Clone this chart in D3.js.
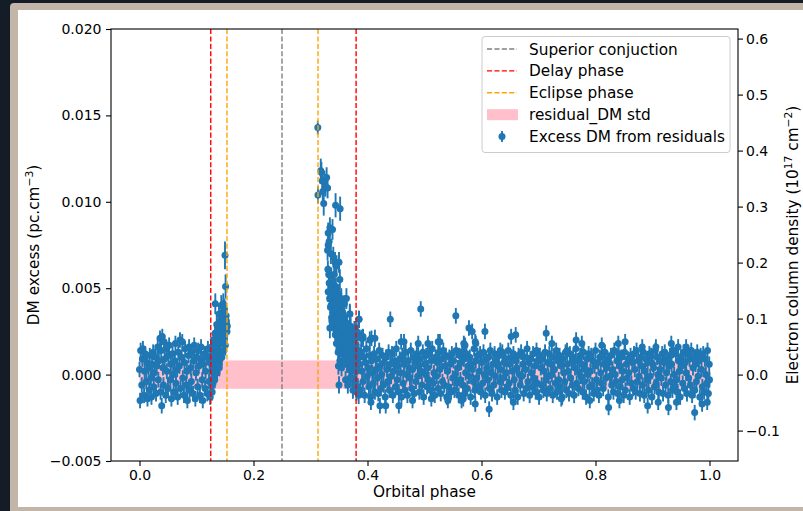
<!DOCTYPE html>
<html>
<head>
<meta charset="utf-8">
<script src="https://cdn.jsdelivr.net/npm/d3@7"></script>
<style>
  body { margin: 0; background: #131c27; overflow: hidden; }
  text { font-family: "DejaVu Sans", sans-serif; fill: #000; }
</style>
</head>
<body>
<div id="chart"></div>
<script>
// ---- data (phase, DM excess in pc cm^-3 [, error]) ----
var baseErr = 0.00045;

var preIngress = [
  [0.000,0.0003],[0.001,-0.0015],[0.002,0.0014],[0.004,-0.0006],[0.005,0.0009],[0.006,0.0015],[0.008,-0.0012],[0.009,0.0002],
  [0.010,0.0012],[0.012,-0.0004],[0.013,0.0007],[0.014,-0.0014],[0.016,0.0004],[0.017,-0.0009],[0.018,0.0011],[0.020,-0.0002],
  [0.021,-0.0013],[0.022,0.0006],[0.024,0.0013],[0.025,-0.0007],[0.026,0.0001],[0.028,0.0010],[0.029,-0.0011],[0.030,0.0005],
  [0.032,0.0016],[0.033,-0.0003],[0.034,0.0008],[0.036,0.0021],[0.037,-0.0010],[0.038,0.0014],[0.039,-0.0018],[0.040,0.0022],
  [0.041,0.0004],[0.042,-0.0006],[0.043,0.0019],[0.044,0.0009],[0.046,-0.0012],[0.047,0.0015],[0.048,0.0002],[0.050,-0.0008],
  [0.051,0.0011],[0.052,0.0017],[0.054,-0.0003],[0.055,0.0006],[0.056,-0.0014],[0.058,0.0012],[0.059,0.0000],[0.060,-0.0010],
  [0.062,0.0008],[0.063,0.0018],[0.064,-0.0005],[0.066,0.0003],[0.067,-0.0013],[0.068,0.0013],[0.070,0.0005],[0.071,0.0020],
  [0.072,-0.0008],[0.074,0.0010],[0.075,0.0019],[0.076,-0.0002],[0.078,-0.0012],[0.079,0.0007],[0.080,0.0015],[0.082,-0.0006],
  [0.083,0.0002],[0.084,-0.0015],[0.086,0.0011],[0.087,0.0016],[0.088,-0.0009],[0.090,0.0004],[0.091,-0.0004],[0.092,0.0013],
  [0.094,-0.0011],[0.095,0.0008],[0.096,0.0017],[0.098,-0.0014],[0.099,0.0001],[0.100,0.0010],[0.102,-0.0007],[0.103,0.0014],
  [0.104,0.0005],[0.106,-0.0012],[0.107,0.0009],[0.108,0.0016],[0.110,-0.0003],[0.111,-0.0015],[0.112,0.0006],[0.114,0.0012],
  [0.115,-0.0008],[0.116,0.0002],[0.118,0.0010],[0.119,-0.0011],[0.120,0.0015],[0.122,-0.0004],[0.123,0.0007],[0.124,-0.0013],
  [0.126,0.0011]
];

var ingress = [
  [0.127,0.0002,0.0005],[0.128,0.0014,0.0005],[0.129,-0.0005,0.0005],[0.130,0.0009,0.0005],[0.131,0.0018,0.0005],
  [0.132,-0.0003,0.0005],[0.132,0.0006,0.0005],[0.133,0.0041,0.0006],[0.134,0.0012,0.0005],[0.135,0.0021,0.0005],
  [0.136,0.0001,0.0005],[0.136,0.0008,0.0005],[0.137,0.0025,0.0005],[0.138,0.0015,0.0005],[0.139,0.0028,0.0005],
  [0.140,0.0004,0.0005],[0.140,0.0011,0.0005],[0.141,0.0031,0.0005],[0.142,0.0019,0.0005],[0.143,0.0024,0.0005],
  [0.144,0.0033,0.0005],[0.145,0.0027,0.0005],[0.146,0.0036,0.0006],[0.147,0.0041,0.0006],[0.148,0.0030,0.0006],
  [0.149,0.0038,0.0006],[0.150,0.0069,0.0008],[0.151,0.0051,0.0007],[0.152,0.0034,0.0006],[0.153,0.0029,0.0006],
  [0.154,0.0028,0.0006],
  [0.1265,0.0016,0.0005],[0.1275,-0.0010,0.0005],[0.1285,0.0005,0.0005],[0.1295,0.0020,0.0005],[0.1305,-0.0001,0.0005],
  [0.1315,0.0011,0.0005],[0.1325,0.0024,0.0005],[0.1335,0.0003,0.0005],[0.1345,0.0017,0.0005],[0.1355,0.0029,0.0005],
  [0.1365,0.0014,0.0005],[0.1375,0.0006,0.0005],[0.1385,0.0022,0.0005],[0.1395,0.0035,0.0005],[0.1405,0.0018,0.0005],
  [0.1415,0.0009,0.0005],[0.1425,0.0027,0.0005],[0.1435,0.0040,0.0006],[0.1445,0.0021,0.0005],[0.1445,0.0010,0.0005],
  [0.1455,0.0031,0.0006],[0.1465,0.0026,0.0006],[0.1475,0.0034,0.0006],[0.1475,0.0014,0.0005],[0.1485,0.0024,0.0006],
  [0.1495,0.0032,0.0006],[0.1505,0.0027,0.0006],[0.1505,0.0017,0.0006],[0.1525,0.0031,0.0006],[0.1535,0.0025,0.0006]
];

var egressPeak = [
  [0.3128,0.0143,0.0004],[0.3131,0.0104,0.0005],[0.3180,0.0118,0.0007],[0.3192,0.0117,0.0006],[0.3205,0.0112,0.0006],
  [0.3215,0.0106,0.0006],[0.3232,0.0099,0.0007],[0.3245,0.0112,0.0006],[0.3262,0.0109,0.0006],[0.3283,0.0114,0.0006],
  [0.3300,0.0108,0.0006],[0.3440,0.0098,0.0007],[0.3520,0.0096,0.0007],[0.3340,0.0085,0.0006],[0.3386,0.0084,0.0006],
  [0.3310,0.0082,0.0006],[0.3327,0.0077,0.0006],[0.3310,0.0075,0.0006],[0.3299,0.0072,0.0006],[0.3357,0.0070,0.0006],
  [0.3400,0.0068,0.0006],[0.3430,0.0065,0.0006],[0.3500,0.0065,0.0006],[0.3457,0.0063,0.0006],[0.3515,0.0055,0.0006],
  [0.3327,0.0053,0.0006],[0.3310,0.0048,0.0006],[0.3369,0.0050,0.0006],[0.3430,0.0046,0.0006],[0.3457,0.0042,0.0006],
  [0.3540,0.0044,0.0006],[0.3630,0.0044,0.0006],[0.3340,0.0027,0.0006],[0.3690,0.0035,0.0006],[0.3850,0.0032,0.0005],
  [0.3780,0.0026,0.0005],[0.3890,0.0021,0.0005],[0.3500,-0.0006,0.0005],
  [0.336,0.0040,0.0006],[0.337,0.0033,0.0006],[0.338,0.0045,0.0006],[0.339,0.0036,0.0006]
];

var egressTail = [
  [0.340,0.0038],[0.341,0.0029],[0.342,0.0041],[0.343,0.0033],[0.344,0.0026],[0.345,0.0036],[0.346,0.0031],[0.347,0.0022],
  [0.348,0.0040],[0.349,0.0028],[0.350,0.0019],[0.351,0.0034],[0.352,0.0025],[0.353,0.0016],[0.354,0.0030],[0.355,0.0021],
  [0.356,0.0012],[0.357,0.0027],[0.358,0.0018],[0.359,0.0033],[0.360,0.0009],[0.361,0.0024],[0.362,0.0015],[0.363,0.0029],
  [0.364,0.0006],[0.365,0.0020],[0.366,0.0011],[0.367,0.0025],[0.368,0.0003],[0.369,0.0035],[0.370,0.0016],[0.371,0.0008],
  [0.372,0.0022],[0.373,-0.0002],[0.374,0.0013],[0.375,0.0019],[0.376,0.0005],[0.377,0.0026],[0.378,-0.0004],[0.379,0.0011],
  [0.380,0.0017],[0.381,0.0002],[0.382,0.0009],[0.383,-0.0007],[0.384,0.0014],[0.385,0.0032],
  [0.3305,0.0061],[0.3320,0.0058],[0.3335,0.0044],[0.3350,0.0039],[0.3365,0.0057],[0.3375,0.0031],[0.3390,0.0052],[0.3405,0.0047],
  [0.3415,0.0058],[0.3425,0.0035],[0.3435,0.0023],[0.3445,0.0051],[0.3455,0.0018],[0.3465,0.0044],[0.3475,0.0029],[0.3485,0.0013],
  [0.3495,0.0047],[0.3505,0.0024],[0.3515,0.0008],[0.3525,0.0039],[0.3535,0.0031],[0.3545,0.0004],[0.3555,0.0028],[0.3565,0.0036],
  [0.3575,0.0007],[0.3585,0.0023],[0.3595,0.0041],[0.3605,0.0014],[0.3615,-0.0003],[0.3625,0.0030],[0.3635,0.0019],[0.3645,0.0026],
  [0.3655,-0.0006],[0.3665,0.0017],[0.3675,0.0009],[0.3685,0.0024],[0.3695,-0.0002],[0.3705,0.0028],[0.3715,0.0012],[0.3725,0.0004],
  [0.3735,0.0019],[0.3745,-0.0009],[0.3755,0.0008],[0.3765,0.0015],[0.3775,-0.0006],[0.3785,0.0021],[0.3795,0.0004],[0.3805,-0.0010],
  [0.3815,0.0013],[0.3825,0.0024],[0.3835,0.0006],[0.3845,-0.0012],[0.3855,0.0010],
  [0.3375,0.0046],[0.3395,0.0041],[0.3410,0.0037],[0.3420,0.0049],[0.3440,0.0040],[0.3450,0.0033],[0.3470,0.0038],[0.3480,0.0046],
  [0.3490,0.0035],[0.3510,0.0041],[0.3530,0.0036],[0.3550,0.0033],[0.3560,0.0027],[0.3580,0.0031],[0.3600,0.0026],[0.3620,0.0022],
  [0.3640,0.0029],[0.3660,0.0024],[0.3690,0.0020],[0.3720,0.0017],[0.3740,0.0023],[0.3760,0.0018],[0.3810,0.0025],[0.3920,0.0021],
  [0.4040,0.0020],[0.4130,0.0021],[0.3490,0.0005]
];

var postEgress = [
  [0.386,0.0006],[0.3875,-0.0009],[0.389,0.0013],[0.3905,0.0002],[0.392,-0.0004],[0.3935,0.0010],[0.395,-0.0012],[0.3965,0.0007],[0.398,0.0015],[0.3995,-0.0001],
  [0.401,0.0004],[0.4025,-0.0007],[0.404,0.0011],[0.4055,-0.0013],[0.407,0.0008],[0.4085,0.0001],[0.410,-0.0005],[0.4115,0.0012],[0.413,-0.0010],[0.4145,0.0003],
  [0.416,0.0009],[0.4175,-0.0002],[0.419,-0.0011],[0.4205,0.0014],[0.422,0.0005],[0.4235,-0.0008],[0.425,0.0000],[0.4265,0.0011],[0.428,-0.0006],[0.4295,0.0007],
  [0.431,-0.0013],[0.4325,0.0010],[0.434,0.0003],[0.4355,-0.0004],[0.437,0.0013],[0.4385,-0.0009],[0.440,0.0006],[0.4415,-0.0001],[0.443,0.0012],[0.4445,-0.0012],
  [0.446,0.0002],[0.4475,0.0008],[0.449,-0.0007],[0.4505,0.0015],[0.452,-0.0003],[0.4535,0.0005],[0.455,-0.0010],[0.4565,0.0009],[0.458,0.0001],[0.4595,-0.0013],
  [0.461,0.0011],[0.4625,-0.0005],[0.464,0.0006],[0.4655,-0.0009],[0.467,0.0013],[0.4685,0.0000],[0.470,-0.0012],[0.4715,0.0008],[0.473,0.0004],[0.4745,-0.0002],
  [0.476,0.0014],[0.4775,-0.0008],[0.479,0.0003],[0.4805,0.0010],[0.482,-0.0011],[0.4835,0.0007],[0.485,-0.0004],[0.4865,0.0012],[0.488,-0.0001],[0.4895,0.0005],
  [0.491,-0.0010],[0.4925,0.0009],[0.494,0.0002],[0.4955,-0.0006],[0.497,0.0013],[0.4985,-0.0013],[0.500,0.0006],[0.5015,0.0000],[0.503,0.0011],[0.5045,-0.0007],
  [0.506,0.0004],[0.5075,-0.0003],[0.509,0.0012],[0.5105,-0.0009],[0.512,0.0008],[0.5135,0.0015],[0.515,-0.0005],[0.5165,0.0001],[0.518,-0.0012],[0.5195,0.0010],
  [0.521,-0.0001],[0.5225,0.0007],[0.524,-0.0008],[0.5255,0.0013],[0.527,0.0003],[0.5285,-0.0011],[0.530,0.0009],[0.5315,-0.0004],[0.533,0.0014],[0.5345,-0.0006],
  [0.536,0.0005],[0.5375,0.0011],[0.539,-0.0013],[0.5405,0.0002],[0.542,-0.0007],[0.5435,0.0010],[0.545,0.0006],[0.5465,-0.0010],[0.548,0.0012],[0.5495,-0.0002],
  [0.551,0.0008],[0.5525,-0.0009],[0.554,0.0000],[0.5555,0.0014],[0.557,-0.0005],[0.5585,0.0004],[0.560,-0.0012],[0.5615,0.0011],[0.563,-0.0003],[0.5645,0.0007],
  [0.566,0.0013],[0.5675,-0.0006],[0.569,0.0009],[0.5705,-0.0011],[0.572,0.0001],[0.5735,0.0012],[0.575,-0.0008],[0.5765,0.0005],[0.578,-0.0001],[0.5795,0.0010],
  [0.581,-0.0013],[0.5825,0.0006],[0.584,0.0003],[0.5855,-0.0004],[0.587,0.0015],[0.5885,-0.0009],[0.590,0.0008],[0.5915,-0.0002],[0.593,0.0011],[0.5945,-0.0007],
  [0.596,0.0002],[0.5975,0.0012],[0.599,-0.0010],[0.6005,0.0007],[0.602,-0.0005],[0.6035,0.0013],[0.605,0.0000],[0.6065,-0.0012],[0.608,0.0009],[0.6095,0.0004],
  [0.611,-0.0003],[0.6125,0.0010],[0.614,-0.0008],[0.6155,0.0014],[0.617,0.0001],[0.6185,-0.0011],[0.620,0.0006],[0.6215,-0.0006],[0.623,0.0012],[0.6245,-0.0001],
  [0.626,0.0008],[0.6275,-0.0013],[0.629,0.0005],[0.6305,0.0011],[0.632,-0.0004],[0.6335,0.0003],[0.635,-0.0009],[0.6365,0.0013],[0.638,-0.0002],[0.6395,0.0007],
  [0.641,-0.0010],[0.6425,0.0009],[0.644,0.0001],[0.6455,-0.0007],[0.647,0.0014],[0.6485,-0.0005],[0.650,0.0006],[0.6515,-0.0012],[0.653,0.0010],[0.6545,0.0002],
  [0.656,0.0012],[0.6575,-0.0003],[0.659,-0.0009],[0.6605,0.0008],[0.662,0.0004],[0.6635,-0.0013],[0.665,0.0011],[0.6665,0.0000],[0.668,-0.0006],[0.6695,0.0013],
  [0.671,-0.0001],[0.6725,0.0006],[0.674,-0.0011],[0.6755,0.0010],[0.677,0.0003],[0.6785,-0.0008],[0.680,0.0015],[0.6815,-0.0004],[0.683,0.0007],[0.6845,-0.0012],
  [0.686,0.0009],[0.6875,0.0001],[0.689,-0.0007],[0.6905,0.0012],[0.692,-0.0002],[0.6935,0.0005],[0.695,-0.0010],[0.6965,0.0014],[0.698,-0.0005],[0.6995,0.0008],
  [0.701,-0.0013],[0.7025,0.0011],[0.704,0.0004],[0.7055,-0.0006],[0.707,0.0009],[0.7085,-0.0009],[0.710,0.0002],[0.7115,0.0013],[0.713,-0.0003],[0.7145,-0.0011],
  [0.716,0.0007],[0.7175,-0.0001],[0.719,0.0012],[0.7205,-0.0008],[0.722,0.0006],[0.7235,0.0000],[0.725,-0.0012],[0.7265,0.0010],[0.728,0.0003],[0.7295,-0.0005],
  [0.731,0.0014],[0.7325,-0.0010],[0.734,0.0008],[0.7355,-0.0003],[0.737,0.0011],[0.7385,-0.0007],[0.740,0.0005],[0.7415,-0.0013],[0.743,0.0009],[0.7445,0.0001],
  [0.746,-0.0004],[0.7475,0.0013],[0.749,-0.0009],[0.7505,0.0006],[0.752,0.0002],[0.7535,-0.0011],[0.755,0.0012],[0.7565,-0.0002],[0.758,0.0007],[0.7595,-0.0006],
  [0.761,0.0010],[0.7625,-0.0012],[0.764,0.0004],[0.7655,0.0015],[0.767,-0.0005],[0.7685,0.0008],[0.770,-0.0008],[0.7715,0.0001],[0.773,0.0011],[0.7745,-0.0001],
  [0.776,0.0006],[0.7775,-0.0010],[0.779,0.0013],[0.7805,-0.0004],[0.782,0.0003],[0.7835,-0.0013],[0.785,0.0009],[0.7865,0.0000],[0.788,0.0012],[0.7895,-0.0007],
  [0.791,0.0002],[0.7925,0.0011],[0.794,-0.0006],[0.7955,0.0008],[0.797,-0.0011],[0.7985,0.0005],[0.800,0.0014],[0.8015,-0.0003],[0.803,-0.0009],[0.8045,0.0007],
  [0.806,-0.0012],[0.8075,0.0010],[0.809,0.0001],[0.8105,-0.0005],[0.812,0.0012],[0.8135,-0.0008],[0.815,0.0006],[0.8165,0.0013],[0.818,-0.0002],[0.8195,0.0004],
  [0.821,0.0009],[0.8225,-0.0013],[0.824,0.0007],[0.8255,-0.0001],[0.827,0.0011],[0.8285,-0.0006],[0.830,0.0003],[0.8315,-0.0010],[0.833,0.0014],[0.8345,0.0000],
  [0.836,-0.0004],[0.8375,0.0008],[0.839,-0.0011],[0.8405,0.0012],[0.842,0.0005],[0.8435,-0.0007],[0.845,0.0010],[0.8465,-0.0003],[0.848,0.0002],[0.8495,-0.0012],
  [0.851,0.0013],[0.8525,-0.0009],[0.854,0.0006],[0.8555,-0.0002],[0.857,0.0009],[0.8585,0.0001],[0.860,-0.0013],[0.8615,0.0011],[0.863,-0.0005],[0.8645,0.0007],
  [0.866,-0.0008],[0.8675,0.0012],[0.869,0.0003],[0.8705,-0.0010],[0.872,0.0014],[0.8735,-0.0004],[0.875,0.0008],[0.8765,-0.0001],[0.878,-0.0011],[0.8795,0.0010],
  [0.881,0.0005],[0.8825,-0.0006],[0.884,0.0013],[0.8855,-0.0012],[0.887,0.0002],[0.8885,0.0009],[0.890,-0.0003],[0.8915,0.0007],[0.893,-0.0009],[0.8945,0.0012],
  [0.896,-0.0001],[0.8975,0.0011],[0.899,-0.0013],[0.9005,0.0006],[0.902,0.0004],[0.9035,-0.0007],[0.905,0.0014],[0.9065,-0.0005],[0.908,0.0010],[0.9095,0.0000],
  [0.911,-0.0010],[0.9125,0.0008],[0.914,0.0003],[0.9155,-0.0002],[0.917,0.0012],[0.9185,-0.0011],[0.920,0.0007],[0.9215,0.0013],[0.923,-0.0006],[0.9245,0.0001],
  [0.926,0.0009],[0.9275,-0.0012],[0.929,0.0005],[0.9305,0.0011],[0.932,-0.0004],[0.9335,0.0006],[0.935,-0.0009],[0.9365,0.0014],[0.938,0.0000],[0.9395,-0.0007],
  [0.941,0.0012],[0.9425,-0.0003],[0.944,-0.0010],[0.9455,0.0008],[0.947,0.0002],[0.9485,-0.0013],[0.950,0.0010],[0.9515,0.0005],[0.953,-0.0005],[0.9545,0.0013],
  [0.956,-0.0008],[0.9575,0.0007],[0.959,0.0001],[0.9605,-0.0011],[0.962,0.0012],[0.9635,-0.0002],[0.965,0.0009],[0.9665,-0.0006],[0.968,0.0014],[0.9695,-0.0012],
  [0.971,0.0004],[0.9725,0.0010],[0.974,-0.0009],[0.9755,0.0006],[0.977,-0.0004],[0.9785,0.0013],[0.980,-0.0001],[0.9815,0.0008],[0.983,-0.0013],[0.9845,0.0011],
  [0.986,0.0003],[0.9875,-0.0007],[0.989,0.0012],[0.9905,-0.0010],[0.992,0.0009],[0.9935,0.0000],[0.995,-0.0005],[0.9965,0.0014],[0.998,-0.0011],[0.9995,0.0006],
  [1.000,-0.0003]
];

// isolated points above / below the quiet band
var outliers = [
  [0.392,0.0022],[0.407,0.0021],[0.4400,0.0032],[0.459,0.0019],[0.464,0.0019],[0.489,0.0018],[0.4934,0.0038],[0.506,0.0018],
  [0.524,0.0019],[0.527,0.0019],[0.555,0.0034],[0.569,0.0018],[0.571,0.0017],[0.578,0.0027],[0.5836,0.0025],[0.589,0.0019],
  [0.590,0.0018],[0.606,0.0025],[0.633,0.0014],[0.652,0.0022],[0.660,0.0023],[0.7135,0.0024],[0.7235,0.0018],[0.750,0.0014],
  [0.766,0.0020],[0.776,0.0018],[0.811,0.0017],[0.840,0.0018],[0.852,0.0019],[0.882,0.0016],[0.906,0.0016],[0.933,0.0018],
  [0.945,0.0016],[0.959,0.0016],
  [0.406,-0.0016],[0.4218,-0.0018],[0.432,-0.0018],[0.455,-0.0018],[0.479,-0.0015],[0.512,-0.0014],[0.541,-0.0015],[0.565,-0.0015],
  [0.568,-0.0014],[0.589,-0.0017],[0.6134,-0.0020],[0.656,-0.0016],[0.740,-0.0014],[0.790,-0.0015],[0.823,-0.0019],[0.842,-0.0015],
  [0.8915,-0.0018],[0.910,-0.0016],[0.928,-0.0019],[0.942,-0.0016],[0.974,-0.0022],[0.987,-0.0017],[0.996,-0.0016]
];

// residual DM standard deviation band
var stdPhase = [0.0, 1.0];
var stdDM = 0.00082;

// orbital phase markers
var conjPhase = [0.25];
var delayPhase = [0.125, 0.38];
var eclipsePhase = [0.1535, 0.3132];

var leftTicks = [-0.005, 0.0, 0.005, 0.010, 0.015, 0.020];
var rightTicks = [-0.1, 0.0, 0.1, 0.2, 0.3, 0.4, 0.5, 0.6];
var xTicks = [0.0, 0.2, 0.4, 0.6, 0.8, 1.0];

var legendLabels = ["Superior conjuction", "Delay phase", "Eclipse phase", "residual_DM std", "Excess DM from residuals"];

// 1 pc cm^-3 = 3.0857e18 cm^-2 -> in units of 1e17 cm^-2
var pcToCol = 30.857;

// ---- layout ----
var W = 803, H = 511;
var plot = {left: 111, right: 738, top: 29, bottom: 461};
var blue = "#1f77b4";
var labelSize = "15.3px";

var svg = d3.select("#chart").append("svg")
    .attr("width", W)
    .attr("height", H);

// window frame
svg.append("rect").attr("width", W).attr("height", H).attr("fill", "#131c27");
svg.append("rect").attr("x", 10).attr("y", 3).attr("width", W).attr("height", H)
    .attr("rx", 4).attr("fill", "#c3b5a7");
svg.append("rect").attr("x", 18).attr("y", 10).attr("width", W - 18).attr("height", 497)
    .attr("fill", "#ffffff");

var xScale = d3.scaleLinear().domain([-0.05, 1.05]).range([plot.left, plot.right]);
var yScale = d3.scaleLinear().domain([-0.005, 0.020]).range([plot.bottom, plot.top]);
var y2Scale = d3.scaleLinear().domain([-0.005 * pcToCol, 0.020 * pcToCol]).range([plot.bottom, plot.top]);

svg.append("defs").append("clipPath").attr("id", "clip")
    .append("rect")
    .attr("x", plot.left).attr("y", plot.top)
    .attr("width", plot.right - plot.left).attr("height", plot.bottom - plot.top);

var g = svg.append("g").attr("clip-path", "url(#clip)");

// std band
g.append("rect")
    .attr("x", xScale(stdPhase[0]))
    .attr("width", xScale(stdPhase[1]) - xScale(stdPhase[0]))
    .attr("y", yScale(stdDM))
    .attr("height", yScale(-stdDM) - yScale(stdDM))
    .attr("fill", "pink");

// collect the points
var points = [];
preIngress.forEach(d => points.push({phase: d[0], dm: d[1], err: baseErr}));
ingress.forEach(d => points.push({phase: d[0], dm: d[1], err: d[2]}));
egressPeak.forEach(d => points.push({phase: d[0], dm: d[1], err: d[2]}));
egressTail.forEach(d => points.push({phase: d[0], dm: d[1], err: 0.0005}));
postEgress.forEach(d => points.push({phase: d[0], dm: d[1], err: baseErr}));
outliers.forEach(d => points.push({phase: d[0], dm: d[1], err: baseErr}));

// error bars
g.append("g").selectAll("line")
    .data(points)
    .enter().append("line")
    .attr("x1", d => xScale(d.phase))
    .attr("x2", d => xScale(d.phase))
    .attr("y1", d => yScale(d.dm - d.err))
    .attr("y2", d => yScale(d.dm + d.err))
    .attr("stroke", blue)
    .attr("stroke-width", 1.9);

// markers
g.append("g").selectAll("circle")
    .data(points)
    .enter().append("circle")
    .attr("cx", d => xScale(d.phase))
    .attr("cy", d => yScale(d.dm))
    .attr("r", 3.5)
    .attr("fill", blue);

// phase markers
var vlines = [];
conjPhase.forEach(p => vlines.push({p: p, c: "gray"}));
delayPhase.forEach(p => vlines.push({p: p, c: "red"}));
eclipsePhase.forEach(p => vlines.push({p: p, c: "orange"}));

g.append("g").selectAll("line")
    .data(vlines)
    .enter().append("line")
    .attr("x1", d => xScale(d.p))
    .attr("x2", d => xScale(d.p))
    .attr("y1", plot.top)
    .attr("y2", plot.bottom)
    .attr("stroke", d => d.c)
    .attr("stroke-width", 1.4)
    .attr("stroke-dasharray", "5.1,2.3");

// axes
var xAxis = svg.append("g")
    .attr("transform", "translate(0," + plot.bottom + ")")
    .call(d3.axisBottom(xScale).tickValues(xTicks).tickFormat(d3.format(".1f"))
        .tickSize(5).tickPadding(4).tickSizeOuter(0));

var yAxis = svg.append("g")
    .attr("transform", "translate(" + plot.left + ",0)")
    .call(d3.axisLeft(yScale).tickValues(leftTicks).tickFormat(d3.format(".3f"))
        .tickSize(5).tickPadding(4.5).tickSizeOuter(0));

var y2Axis = svg.append("g")
    .attr("transform", "translate(" + plot.right + ",0)")
    .call(d3.axisRight(y2Scale).tickValues(rightTicks).tickFormat(d3.format(".1f"))
        .tickSize(5).tickPadding(3).tickSizeOuter(0));

[xAxis, yAxis, y2Axis].forEach(a => {
    a.select(".domain").remove();
    a.selectAll("text").style("font-size", "14px").attr("fill", "#000");
    a.selectAll("line").attr("stroke", "#000").attr("stroke-width", 1.1);
});

// spines
svg.append("rect")
    .attr("x", plot.left).attr("y", plot.top)
    .attr("width", plot.right - plot.left).attr("height", plot.bottom - plot.top)
    .attr("fill", "none").attr("stroke", "#000").attr("stroke-width", 1.1);

// axis labels
var midY = (plot.top + plot.bottom) / 2;

svg.append("text")
    .attr("x", (plot.left + plot.right) / 2)
    .attr("y", 497)
    .attr("text-anchor", "middle")
    .style("font-size", labelSize)
    .text("Orbital phase");

var yl = svg.append("text")
    .attr("transform", "translate(39," + midY + ") rotate(-90)")
    .attr("text-anchor", "middle")
    .style("font-size", labelSize);
yl.append("tspan").text("DM excess (pc.cm");
yl.append("tspan").attr("dy", -6.5).style("font-size", "10.7px").text("\u22123");
yl.append("tspan").attr("dy", 6.5).text(")");

var yr = svg.append("text")
    .attr("transform", "translate(798," + midY + ") rotate(-90)")
    .attr("text-anchor", "middle")
    .style("font-size", labelSize);
yr.append("tspan").text("Electron column density (10");
yr.append("tspan").attr("dy", -6.5).style("font-size", "10.7px").text("17");
yr.append("tspan").attr("dy", 6.5).text(" cm");
yr.append("tspan").attr("dy", -6.5).style("font-size", "10.7px").text("\u22122");
yr.append("tspan").attr("dy", 6.5).text(")");

// legend
var leg = svg.append("g");
leg.append("rect")
    .attr("x", 482).attr("y", 36.5)
    .attr("width", 248).attr("height", 116)
    .attr("rx", 3)
    .attr("fill", "#fff").attr("fill-opacity", 0.8)
    .attr("stroke", "#cccccc").attr("stroke-width", 1);

var rowY = i => 49 + i * 21.9;
var lineColors = ["gray", "red", "orange"];
lineColors.forEach((c, i) => {
    leg.append("line")
        .attr("x1", 487).attr("x2", 517)
        .attr("y1", rowY(i)).attr("y2", rowY(i))
        .attr("stroke", c).attr("stroke-width", 1.4)
        .attr("stroke-dasharray", "5.1,2.3");
});
leg.append("rect")
    .attr("x", 487).attr("y", rowY(3) - 5.5)
    .attr("width", 31).attr("height", 11)
    .attr("fill", "pink");
leg.append("line")
    .attr("x1", 502).attr("x2", 502)
    .attr("y1", rowY(4) - 5.5).attr("y2", rowY(4) + 5.5)
    .attr("stroke", blue).attr("stroke-width", 1.9);
leg.append("circle")
    .attr("cx", 502).attr("cy", rowY(4)).attr("r", 3.5)
    .attr("fill", blue);

leg.selectAll("text.lab")
    .data(legendLabels)
    .enter().append("text")
    .attr("class", "lab")
    .attr("x", 529)
    .attr("y", (d, i) => rowY(i) + 5.5)
    .style("font-size", labelSize)
    .text(d => d);
</script>
</body>
</html>
